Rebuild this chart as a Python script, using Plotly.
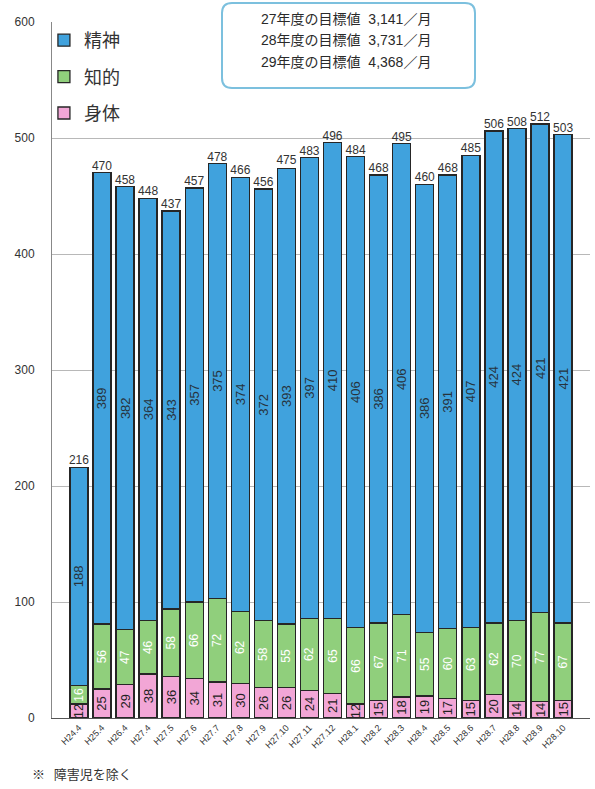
import plotly.graph_objects as go

# Monthly users by disability type
months = ["H24.4", "H25.4", "H26.4", "H27.4", "H27.5", "H27.6", "H27.7", "H27.8",
          "H27.9", "H27.10", "H27.11", "H27.12", "H28.1", "H28.2", "H28.3", "H28.4",
          "H28.5", "H28.6", "H28.7", "H28.8", "H28.9", "H28.10"]
physical = [12, 25, 29, 38, 36, 34, 31, 30, 26, 26, 24, 21, 12, 15, 18, 19, 17, 15, 20, 14, 14, 15]
intellectual = [16, 56, 47, 46, 58, 66, 72, 62, 58, 55, 62, 65, 66, 67, 71, 55, 60, 63, 62, 70, 77, 67]
mental = [188, 389, 382, 364, 343, 357, 375, 374, 372, 393, 397, 410, 406, 386, 406, 386, 391,
          407, 424, 424, 421, 421]
totals = [216, 470, 458, 448, 437, 457, 478, 466, 456, 475, 483, 496, 484, 468, 495, 460, 468,
          485, 506, 508, 512, 503]
targets = ["27年度の目標値  3,141／月", "28年度の目標値  3,731／月", "29年度の目標値  4,368／月"]

FONT = "Liberation Sans, Arial, Noto Sans CJK JP, sans-serif"
JP = "Noto Sans CJK JP, sans-serif"
OUTLINE = dict(color="#262626", width=1.3)

fig = go.Figure()

def seg(name, vals, color, txtcolor, size, rank):
    fig.add_trace(go.Bar(
        x=months, y=vals, name=name, legendgroup=name, legendrank=rank,
        marker=dict(color=color, line=OUTLINE),
        text=[str(v) for v in vals], textposition="inside", insidetextanchor="middle",
        textangle=-90, constraintext="none",
        textfont=dict(family=FONT, size=size, color=txtcolor),
        hoverinfo="skip",
    ))

seg("身体", physical, "#f2a6d6", "#222222", 13, 3)
seg("知的", intellectual, "#90cf7c", "#ffffff", 12, 2)
seg("精神", mental, "#40a2dd", "#27323c", 13, 1)

# totals above each stack
fig.add_trace(go.Scatter(
    x=months, y=totals, mode="text", text=[str(t) for t in totals],
    textposition="top center", textfont=dict(family=FONT, size=12, color="#333333"),
    showlegend=False, hoverinfo="skip",
))

W, H = 595, 789
ml, mr, mt, mb = 52, 5, 22, 71
pw, ph = W - ml - mr, H - mt - mb

def px_x(x):
    return (x - ml) / pw

def px_y(y):
    return (H - mb - y) / ph

# rounded target box
x0, x1, y0, y1, r = 222, 475, 3, 88, 10
def rounded(x0, y0, x1, y1, r):
    P = lambda x, y: f"{px_x(x):.5f},{px_y(y):.5f}"
    return (f"M {P(x0 + r, y0)} L {P(x1 - r, y0)} Q {P(x1, y0)} {P(x1, y0 + r)} "
            f"L {P(x1, y1 - r)} Q {P(x1, y1)} {P(x1 - r, y1)} "
            f"L {P(x0 + r, y1)} Q {P(x0, y1)} {P(x0, y1 - r)} "
            f"L {P(x0, y0 + r)} Q {P(x0, y0)} {P(x0 + r, y0)} Z")

fig.add_shape(type="path", xref="paper", yref="paper", path=rounded(x0, y0, x1, y1, r),
              line=dict(color="#7cc0de", width=2), fillcolor="white", layer="above")
for i, t in enumerate(targets):
    fig.add_annotation(x=px_x(346), y=px_y(19 + i * 21.5), xref="paper", yref="paper",
                       text=t, showarrow=False, xanchor="center", yanchor="middle",
                       font=dict(family=FONT, size=14, color="#2a2a2a"))

fig.add_annotation(x=px_x(30), y=px_y(773), xref="paper", yref="paper",
                   text="※   障害児を除く", showarrow=False, xanchor="left", yanchor="middle",
                   font=dict(family=JP, size=13, color="#333333"))

fig.update_layout(
    width=W, height=H, barmode="stack", bargap=0.22,
    margin=dict(l=ml, r=mr, t=mt, b=mb),
    paper_bgcolor="white", plot_bgcolor="white",
    font=dict(family=FONT, color="#333333"),
    legend=dict(x=-0.015, y=1.0, xanchor="left", yanchor="top",
                traceorder="grouped",
                tracegroupgap=10, bgcolor="rgba(0,0,0,0)", itemwidth=30,
                font=dict(family=JP, size=18, color="#333333")),
    xaxis=dict(tickangle=-45, tickfont=dict(family=FONT, size=9, color="#333333"),
               showline=True, linecolor="#555555", linewidth=1, ticks=""),
    yaxis=dict(range=[0, 600], tickvals=[0, 100, 200, 300, 400, 500, 600],
               tickfont=dict(family=FONT, size=12, color="#333333"),
               showgrid=True, gridcolor="#b8b8b8", gridwidth=1,
               showline=True, linecolor="#888888", linewidth=1,
               ticklabelstandoff=14, zeroline=False),
)

fig.write_html("out.html")
